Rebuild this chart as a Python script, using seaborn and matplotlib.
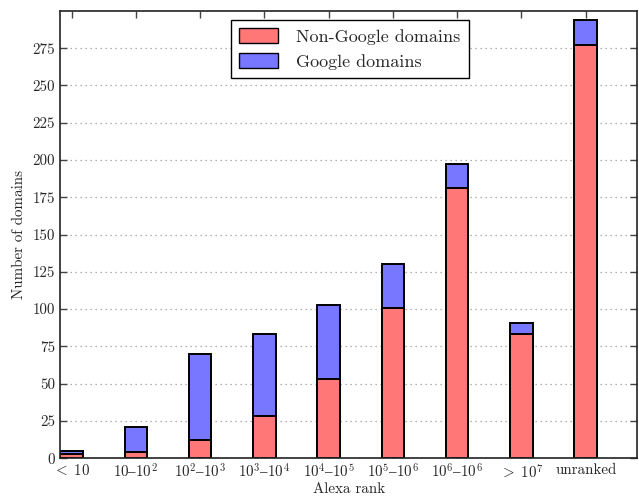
import matplotlib
matplotlib.use("Agg")
import matplotlib.pyplot as plt
import seaborn as sns
from matplotlib.patches import Patch

categories = [r"$<\;10$", r"$10\text{–}10^2$", r"$10^2\text{–}10^3$", r"$10^3\text{–}10^4$",
              r"$10^4\text{–}10^5$", r"$10^5\text{–}10^6$", r"$10^6\text{–}10^6$", r"$>\;10^7$",
              "unranked"]
non_google = [3, 4, 12, 28, 53, 101, 181, 83, 277]
google = [2, 17, 58, 55, 50, 29, 16, 8, 17]
totals = [a + b for a, b in zip(non_google, google)]
yticks = list(range(0, 300, 25))

sns.set_style("ticks")
plt.rcParams["font.family"] = ["cmr10", "DejaVu Serif"]
plt.rcParams["mathtext.fontset"] = "cm"
plt.rcParams["axes.formatter.use_mathtext"] = True

red = "#ff7777"
blue = "#7777ff"
fs = 10.8

fig = plt.figure(figsize=(6.39, 4.98), dpi=100)
ax = fig.add_axes([0.094, 0.080, 0.903, 0.898])
ax.set_axisbelow(True)
ax.yaxis.grid(True, linestyle=(0, (1, 3)), color="#999999", linewidth=0.9)

xs = list(range(len(categories)))
sns.barplot(x=xs, y=totals, color=blue, saturation=1,
            edgecolor="black", linewidth=1.4, width=0.35, ax=ax)
sns.barplot(x=xs, y=non_google, color=red, saturation=1,
            edgecolor="black", linewidth=1.4, width=0.35, ax=ax)

ax.set_xticks(xs)
ax.set_xticklabels(categories, fontsize=fs)
ax.set_yticks(yticks)
ax.set_yticklabels([str(v) for v in yticks], fontsize=fs)
ax.set_xlim(-0.18, 8.8)
ax.set_ylim(0, 300)
ax.tick_params(direction="in", top=True, right=True, length=5, width=1, color="#444444")
for s in ax.spines.values():
    s.set_visible(True)
    s.set_linewidth(1.2)
    s.set_color("#222222")

ax.set_xlabel("Alexa rank", fontsize=fs, labelpad=1)
ax.set_ylabel("Number of domains", fontsize=fs, labelpad=5)

handles = [Patch(facecolor=red, edgecolor="black", linewidth=1.0, label="Non-Google domains"),
           Patch(facecolor=blue, edgecolor="black", linewidth=1.0, label="Google domains")]
leg = ax.legend(handles=handles, loc="upper center", bbox_to_anchor=(0.502, 0.98), fontsize=13,
                frameon=True, fancybox=False, edgecolor="black", framealpha=1, borderaxespad=0,
                handlelength=2.2, handleheight=0.9, borderpad=0.45, labelspacing=0.45,
                handletextpad=1.0)
leg.get_frame().set_linewidth(1.0)

fig.savefig("out.png", dpi=100)
